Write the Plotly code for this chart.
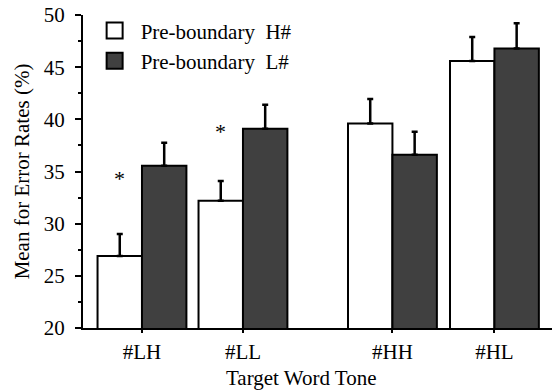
import plotly.graph_objects as go

# ---- data ----
categories = ["#LH", "#LL", "#HH", "#HL"]
cat_pos = [1.0, 2.0, 3.48, 4.49]          # two groups separated by a wider gap
series_names = ["Pre-boundary  H#", "Pre-boundary  L#"]
h_means = [26.9, 32.2, 39.6, 45.6]
h_err = [2.1, 1.9, 2.35, 2.3]
l_means = [35.55, 39.1, 36.6, 46.8]
l_err = [2.2, 2.3, 2.2, 2.4]
star_cats = [0, 1]
star_y = [34.3, 38.8]
y_ticks = [20, 25, 30, 35, 40, 45, 50]
x_title = "Target Word Tone"
y_title = "Mean for Error Rates (%)"

FONT = "Liberation Serif, Times New Roman, serif"
DARK = "#404040"
FS = 21

fig = go.Figure()
for name, vals, errs, fill in [(series_names[0], h_means, h_err, "white"),
                               (series_names[1], l_means, l_err, DARK)]:
    fig.add_trace(go.Bar(
        x=cat_pos, y=vals, name=name, showlegend=False,
        marker=dict(color=fill, line=dict(color="black", width=2)),
        error_y=dict(type="data", array=errs, arrayminus=[0] * len(errs),
                     symmetric=False, color="black", thickness=2.5, width=3),
    ))
    # legend entry with a larger square symbol
    fig.add_trace(go.Scatter(
        x=[None], y=[None], mode="markers", name=name, legendgroup="g",
        marker=dict(symbol="square", size=16, color=fill,
                    line=dict(color="black", width=2)),
    ))

for ci, sy in zip(star_cats, star_y):
    fig.add_annotation(x=cat_pos[ci] - 0.22, y=sy, text="*", showarrow=False,
                       font=dict(family=FONT, size=22, color="black"),
                       yanchor="middle", xanchor="center")

# x-axis title (sits slightly left of the plot-area centre in the original)
fig.add_annotation(x=0.465, y=0, xref="paper", yref="paper", text=x_title,
                   showarrow=False, xanchor="center", yanchor="middle",
                   yshift=-50, font=dict(family=FONT, size=FS, color="black"))

fig.update_layout(
    width=552, height=390,
    margin=dict(l=83, r=0, t=15, b=62),
    paper_bgcolor="white", plot_bgcolor="white",
    barmode="group", bargap=0.12, bargroupgap=0,
    font=dict(family=FONT, size=FS, color="black"),
    legend=dict(x=0.012, y=1.015, xanchor="left", yanchor="top",
                bgcolor="rgba(0,0,0,0)", font=dict(size=FS),
                tracegroupgap=0, itemsizing="trace", itemwidth=42),
    xaxis=dict(range=[0.416, 5.06], tickmode="array", tickvals=cat_pos,
               ticktext=categories, showline=True, linecolor="black",
               linewidth=2, ticks="outside", ticklen=3, tickwidth=2,
               tickcolor="black", showgrid=False, zeroline=False,
               tickfont=dict(size=FS), ticklabelstandoff=1),
    yaxis=dict(range=[20, 50], tickmode="array", tickvals=y_ticks,
               showline=True, linecolor="black", linewidth=2,
               ticks="outside", ticklen=6, tickwidth=2, tickcolor="black",
               minor=dict(dtick=2.5, ticks="outside", ticklen=3,
                          tickwidth=2, tickcolor="black", showgrid=False),
               showgrid=False, zeroline=False,
               title=dict(text=y_title, standoff=8, font=dict(size=FS)),
               tickfont=dict(size=FS), ticklabelstandoff=6),
)

fig.write_html("out.html", config={"displayModeBar": False},
               post_script="document.body.style.margin='0';")
